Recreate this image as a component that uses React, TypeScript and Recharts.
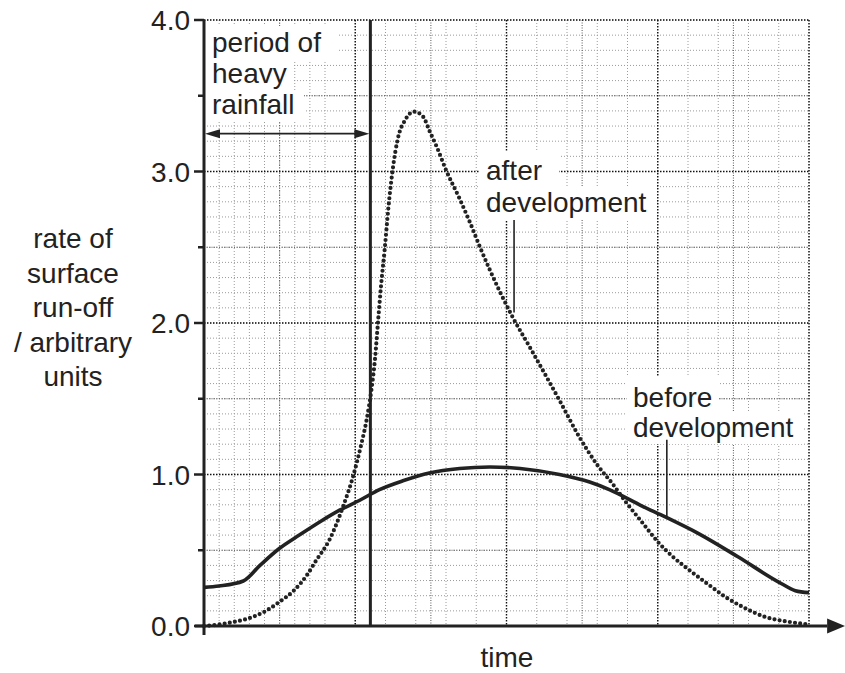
import { LineChart, Line, XAxis, YAxis, CartesianGrid, ReferenceLine } from 'recharts';

// time in grid squares (0-40), rate in arbitrary units
const beforeTime = [0, 1, 2.6, 3.7, 5, 6.3, 7.7, 9, 10.3, 11.6, 13.2, 14.9, 16.9, 18.9, 20.9, 23.5, 25.5, 26.8, 29, 30.5, 32.7, 35.3, 38, 39.1, 40];
const beforeRate = [0.255, 0.264, 0.297, 0.4, 0.513, 0.6, 0.69, 0.766, 0.83, 0.9, 0.96, 1.01, 1.04, 1.05, 1.04, 1.0, 0.95, 0.9, 0.79, 0.72, 0.61, 0.457, 0.29, 0.233, 0.22];

const afterTime = [0, 1, 1.8, 2.8, 4.1, 5, 5.9, 6.8, 7.4, 8.3, 9.2, 9.85, 10.4, 10.75, 11.07, 11.3, 11.5, 11.7, 11.95, 12.2, 12.5, 12.8, 13.3, 13.9, 14.5, 14.9, 15.4, 16, 16.9, 17.6, 18.25, 19.5, 20.4, 21.6, 23.5, 24.8, 26.1, 27, 27.8, 29, 30, 31, 32.2, 33.4, 34.5, 35.6, 37.1, 38.5, 39.6, 40];
const afterRate = [0, 0.01, 0.024, 0.046, 0.1, 0.16, 0.23, 0.335, 0.43, 0.57, 0.79, 0.985, 1.2, 1.36, 1.56, 1.756, 2.0, 2.24, 2.49, 2.77, 3.03, 3.21, 3.34, 3.395, 3.36, 3.27, 3.16, 3.01, 2.82, 2.66, 2.5, 2.22, 2.04, 1.83, 1.49, 1.25, 1.05, 0.94, 0.83, 0.68, 0.556, 0.457, 0.36, 0.27, 0.19, 0.127, 0.06, 0.03, 0.015, 0.01];

const yTicks = [0, 0.5, 1, 1.5, 2, 2.5, 3, 3.5, 4];
const yLabelLines = ['rate of', 'surface', 'run-off', '/ arbitrary', 'units'];
const rainLabelLines = ['period of', 'heavy', 'rainfall'];
const rainEnd = 11;
const rainArrowY = 3.25;

const beforeData = beforeTime.map((t, i) => ({ t, rate: beforeRate[i] }));
const afterData = afterTime.map((t, i) => ({ t, rate: afterRate[i] }));

// graph paper
const minorX = Array.from({ length: 41 }, (_, i) => i);
const minorY = Array.from({ length: 41 }, (_, i) => i / 10);
const midX = [5, 15, 25, 35];
const midY = [0.5, 1.5, 2.5, 3.5];
const majorX = [10, 20, 30, 40];
const majorY = [1, 2, 3, 4];

const INK = '#222';
const FONT = '"Liberation Sans", Arial, Helvetica, sans-serif';
const FS = 28;

const YTick = ({ x, y, payload }: any) => {
  const v = payload.value;
  const major = Number.isInteger(v);
  return (
    <g>
      <line x1={x - (major ? 10 : 6)} x2={x} y1={y} y2={y} stroke={INK} strokeWidth={2.5} />
      {major && (
        <text x={x - 14} y={y} dy="0.36em" textAnchor="end" fill={INK} fontSize={FS} fontFamily={FONT}>
          {v.toFixed(1)}
        </text>
      )}
    </g>
  );
};

const TimeAxis = (p: any) => {
  const { x1, y1, x2 } = p;
  return (
    <g>
      <line x1={x1} y1={y1} x2={x2} y2={y1} stroke={INK} strokeWidth={3} />
      <polygon points={`${x2},${y1 - 7.5} ${x2 + 18},${y1} ${x2},${y1 + 7.5}`} fill={INK} />
    </g>
  );
};

const DoubleArrow = (p: any) => {
  const { x1, y1, x2 } = p;
  return (
    <g>
      <line x1={x1 + 10} y1={y1} x2={x2 - 10} y2={y1} stroke={INK} strokeWidth={1.7} />
      <polygon points={`${x1 + 1},${y1} ${x1 + 16},${y1 - 4.5} ${x1 + 16},${y1 + 4.5}`} fill={INK} />
      <polygon points={`${x2 - 1},${y1} ${x2 - 16},${y1 - 4.5} ${x2 - 16},${y1 + 4.5}`} fill={INK} />
    </g>
  );
};

const txt = { fill: INK, fontSize: FS, fontFamily: FONT };

const Notes = () => (
  <g>
    {/* white boxes behind labels on the graph paper */}
    <rect x={206} y={26} width={132} height={34} fill="#fff" />
    <rect x={206} y={60} width={88} height={32} fill="#fff" />
    <rect x={206} y={92} width={98} height={30} fill="#fff" />
    <rect x={479} y={152} width={80} height={34} fill="#fff" />
    <rect x={479} y={186} width={177} height={34} fill="#fff" />
    <rect x={627} y={376} width={92} height={36} fill="#fff" />
    <rect x={627} y={412} width={176} height={32} fill="#fff" />
    {rainLabelLines.map((s, i) => (
      <text key={s} x={212} y={52 + i * 31} {...txt}>{s}</text>
    ))}
    <text x={486} y={180} {...txt}>after</text>
    <text x={486} y={212} {...txt}>development</text>
    <text x={633} y={407} {...txt}>before</text>
    <text x={633} y={437} {...txt}>development</text>
    {yLabelLines.map((s, i) => (
      <text key={s} x={73} y={248 + i * 34.6} textAnchor="middle" {...txt}>{s}</text>
    ))}
    <text x={507} y={667} textAnchor="middle" {...txt}>time</text>
  </g>
);

export default function App() {
  return (
    <div style={{ position: 'absolute', left: 0, top: 0, background: '#fff' }}>
      <LineChart width={845} height={673} margin={{ top: 20, right: 36, bottom: 47, left: 144 }}>
        <XAxis type="number" dataKey="t" domain={[0, 40]} hide />
        <YAxis
          type="number"
          domain={[0, 4]}
          ticks={yTicks}
          interval={0}
          width={60}
          axisLine={false}
          tickLine={false}
          tickSize={0}
          tickMargin={0}
          tick={<YTick />}
        />
        <CartesianGrid horizontalValues={minorY} verticalValues={minorX} stroke="#9a9a9a" strokeDasharray="1 2" />
        <CartesianGrid horizontalValues={midY} verticalValues={midX} stroke="#555" strokeDasharray="1 1.5" />
        <CartesianGrid horizontalValues={majorY} verticalValues={majorX} stroke="#111" strokeWidth={1.4} strokeDasharray="1.5 1.5" />
        <Notes />
        <ReferenceLine
          segment={[{ x: 20.5, y: 2.68 }, { x: 20.5, y: 2.07 }]}
          stroke={INK}
          strokeWidth={1.6}
          ifOverflow="visible"
        />
        <ReferenceLine
          segment={[{ x: 30.6, y: 1.23 }, { x: 30.6, y: 0.72 }]}
          stroke={INK}
          strokeWidth={1.6}
          ifOverflow="visible"
        />
        <ReferenceLine
          segment={[{ x: 0, y: rainArrowY }, { x: rainEnd, y: rainArrowY }]}
          ifOverflow="visible"
          shape={<DoubleArrow />}
        />
        <ReferenceLine
          segment={[{ x: rainEnd, y: 0 }, { x: rainEnd, y: 4 }]}
          stroke={INK}
          strokeWidth={3}
          ifOverflow="visible"
        />
        <ReferenceLine
          segment={[{ x: 0, y: -0.06 }, { x: 0, y: 4 }]}
          stroke={INK}
          strokeWidth={3}
          ifOverflow="visible"
        />
        <ReferenceLine
          segment={[{ x: -0.6, y: 0 }, { x: 41.2, y: 0 }]}
          ifOverflow="visible"
          shape={<TimeAxis />}
        />
        <Line
          data={afterData}
          dataKey="rate"
          type="monotone"
          stroke={INK}
          strokeWidth={4.2}
          strokeLinecap="round"
          strokeDasharray="0 5.2"
          dot={false}
          isAnimationActive={false}
        />
        <Line
          data={beforeData}
          dataKey="rate"
          type="monotone"
          stroke={INK}
          strokeWidth={3.6}
          dot={false}
          isAnimationActive={false}
        />
      </LineChart>
    </div>
  );
}
